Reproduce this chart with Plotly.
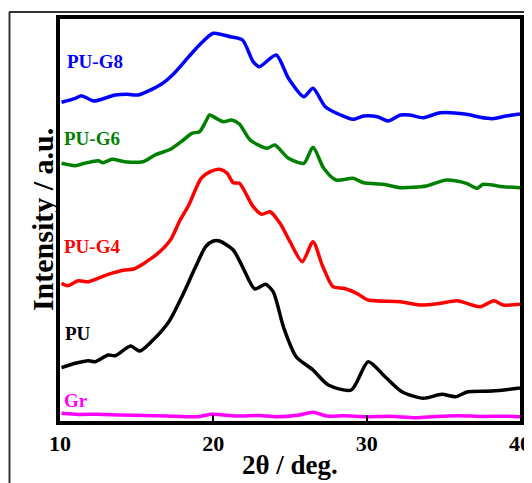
import plotly.graph_objects as go

# 2theta (deg) / intensity (a.u.)
x_g8 = [10.1, 11.0, 11.4, 12.2, 13.6, 14.4, 15.1, 16.6, 17.4, 18.4, 19.2, 20.0, 21.1, 21.9,
        22.6, 23.0, 24.1, 24.9, 25.9, 26.5, 27.3, 28.3, 29.1, 29.8, 30.7, 31.4, 32.2, 32.8,
        33.7, 34.8, 36.5, 37.4, 38.2, 39.1, 40.0]
y_g8 = [318.7, 322.7, 325.3, 320.0, 326.0, 326.7, 326.0, 336.7, 347.0, 364.3, 377.7, 387.7, 384.3, 381.0,
        359.3, 354.3, 366.0, 342.7, 324.3, 332.7, 314.3, 306.0, 301.7, 305.0, 304.3, 300.0, 306.0, 306.0,
        303.3, 308.3, 306.7, 303.7, 302.3, 305.0, 307.0]

x_g6 = [10.1, 11.0, 11.6, 12.5, 12.8, 13.4, 14.2, 15.4, 16.2, 17.2, 17.9, 18.6, 19.1, 19.5,
        19.75, 20.0, 20.65, 21.2, 21.7, 22.4, 23.5, 24.0, 24.9, 25.9, 26.5, 27.2, 28.0, 29.1,
        29.8, 31.1, 32.2, 33.9, 35.2, 36.5, 37.2, 37.6, 38.9, 40.0]
y_g6 = [257.7, 255.3, 257.7, 260.3, 258.3, 261.7, 259.3, 259.3, 266.0, 271.7, 279.3, 287.7, 289.3, 299.3,
        306.0, 304.3, 299.3, 301.0, 297.0, 281.0, 272.7, 276.0, 262.7, 257.7, 273.7, 252.7, 241.0, 242.7,
        238.3, 236.7, 233.3, 235.0, 241.0, 237.7, 232.7, 236.7, 234.3, 233.3]

x_g4 = [10.1, 10.5, 11.2, 11.85, 13.15, 14.2, 14.8, 16.2, 17.2, 17.8, 18.4, 19.2, 19.8, 20.4,
        20.9, 21.3, 21.7, 22.6, 23.15, 23.7, 24.35, 25.0, 25.8, 26.5, 27.1, 27.8, 28.5, 29.35,
        30.1, 32.2, 33.5, 34.8, 35.9, 37.4, 38.3, 38.9, 40.0]
y_g4 = [137.7, 135.3, 140.3, 139.3, 146.7, 151.0, 152.0, 165.3, 181.0, 200.0, 216.0, 242.7, 249.3, 251.7,
        247.7, 238.3, 237.7, 214.3, 206.7, 209.3, 197.7, 179.3, 159.3, 179.3, 156.0, 134.3, 132.7, 127.7,
        121.0, 119.3, 116.0, 117.7, 120.3, 114.3, 120.3, 116.0, 116.7]

x_pu = [10.1, 11.0, 11.85, 12.3, 13.15, 13.6, 14.6, 15.2, 16.0, 17.1, 17.9, 18.8, 19.5, 20.0,
        20.4, 21.3, 21.95, 22.7, 23.4, 23.9, 24.6, 25.4, 26.5, 27.5, 29.0, 30.1, 31.2, 32.3,
        33.7, 34.9, 35.8, 36.6, 38.2, 40.0]
y_pu = [53.3, 57.7, 60.3, 59.3, 66.0, 65.3, 75.0, 70.0, 80.0, 99.3, 122.7, 152.7, 174.3, 180.0,
        180.0, 171.0, 152.7, 132.0, 136.7, 129.3, 92.7, 64.3, 51.0, 36.0, 31.0, 59.3, 44.3, 29.3,
        22.7, 26.7, 24.3, 29.3, 30.0, 33.0]

x_gr = [10.1, 11.2, 12.5, 14.0, 15.5, 17.0, 19.0, 19.9, 21.5, 23.0, 24.1, 25.5, 26.5, 27.4,
        28.5, 30.0, 31.5, 33.2, 34.5, 36.0, 37.5, 39.0, 40.0]
y_gr = [7.7, 6.5, 6.8, 6.0, 5.5, 5.0, 4.3, 6.7, 5.0, 5.6, 4.3, 5.8, 8.7, 5.0,
        5.2, 4.3, 4.8, 3.3, 4.5, 5.3, 4.6, 4.8, 4.3]

series = [
    ("PU-G8", x_g8, y_g8, "#0000ff"),
    ("PU-G6", x_g6, y_g6, "#008000"),
    ("PU-G4", x_g4, y_g4, "#ff0000"),
    ("PU", x_pu, y_pu, "#000000"),
    ("Gr", x_gr, y_gr, "#ff00ff"),
]

x_ticks = [10, 20, 30, 40]

# label anchor positions (data coords)
label_x = [10.35, 10.1, 10.1, 10.2, 10.1]
label_y = [359.3, 282.3, 174.3, 88.0, 20.5]

fig = go.Figure()
for name, xs, ys, col in series:
    fig.add_trace(go.Scatter(x=xs, y=ys, mode="lines", name=name,
                             line=dict(color=col, width=3.5, shape="spline", smoothing=0.7)))

for (name, xs, ys, col), lx, ly in zip(series, label_x, label_y):
    fig.add_annotation(x=lx, y=ly, xref="x", yref="y", text=name, showarrow=False,
                       xanchor="left", yanchor="middle",
                       font=dict(family="Liberation Serif", size=19, color=col, weight="bold"))

# axis titles
fig.add_annotation(x=0.5, y=-0.109, xref="paper", yref="paper", text="2θ / deg.", showarrow=False,
                   xanchor="center", yanchor="middle",
                   font=dict(family="Liberation Serif", size=27, color="black", weight="bold"))
fig.add_annotation(x=-0.039, y=0.5, xref="paper", yref="paper", text="Intensity / a.u.", showarrow=False,
                   xanchor="center", yanchor="middle", textangle=-90,
                   font=dict(family="Liberation Serif", size=30, color="black", weight="bold"))

# outer frame lines (figure-level)
fig.add_shape(type="line", xref="paper", yref="paper", x0=-0.111, x1=1.03, y0=1.0174, y1=1.0174,
              line=dict(color="#333333", width=2))
fig.add_shape(type="line", xref="paper", yref="paper", x0=-0.1098, x1=-0.1098, y0=1.0174, y1=-0.16,
              line=dict(color="#333333", width=2))

fig.update_layout(
    width=524, height=475,
    margin=dict(l=52, r=12, t=11, b=62),
    paper_bgcolor="white", plot_bgcolor="white",
    showlegend=False,
    font=dict(family="Liberation Serif", color="black"),
)
fig.update_xaxes(range=[10, 40], tickvals=x_ticks, ticks="inside", ticklen=6, tickwidth=2,
                 tickcolor="black", showline=True, linewidth=4, linecolor="black", mirror=True,
                 showgrid=False, zeroline=False, automargin=False, ticklabeloverflow="allow",
                 tickfont=dict(family="Liberation Serif", size=22, weight="bold"))
fig.update_yaxes(range=[0, 402], showticklabels=False, ticks="", showline=True, linewidth=4,
                 linecolor="black", mirror=True, showgrid=False, zeroline=False, automargin=False)

fig.write_html("out.html")
